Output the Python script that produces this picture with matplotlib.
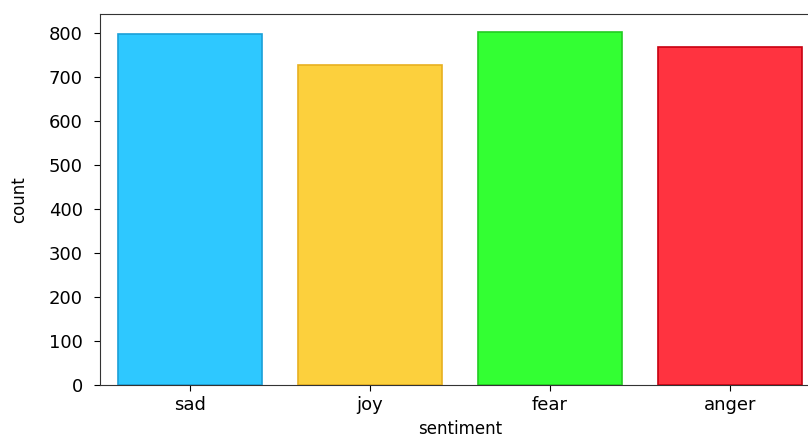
import matplotlib
matplotlib.use("Agg")
import matplotlib.pyplot as plt

categories = ["sad", "joy", "fear", "anger"]
counts = [798, 727, 802, 767]
fill_colors = ["#2EC8FF", "#FCD03D", "#33FF33", "#FF3340"]
edge_colors = ["#1AA0D8", "#E8B020", "#22CC22", "#C80010"]

fig = plt.figure(figsize=(8.08, 4.37), dpi=100)
ax = fig.add_axes([100/808, 52/437, 720/808, 371/437])
x = range(len(categories))
ax.bar(x, counts, width=0.8, color=fill_colors, edgecolor=edge_colors, linewidth=1.2)
ax.set_xlim(-0.5, 3.5)
ax.set_ylim(0, 843)
ax.set_xticks(list(x))
ax.set_xticklabels(categories)
ax.set_yticks(range(0, 801, 100))
ax.tick_params(labelsize=13, length=4.5)
ax.tick_params(axis="y", pad=8)
for s in ax.spines.values():
    s.set_color("#333333")
ax.set_xlabel("sentiment", fontsize=12, labelpad=4)
ax.set_ylabel("count", fontsize=12, labelpad=15)
fig.savefig("out.png", dpi=100)
